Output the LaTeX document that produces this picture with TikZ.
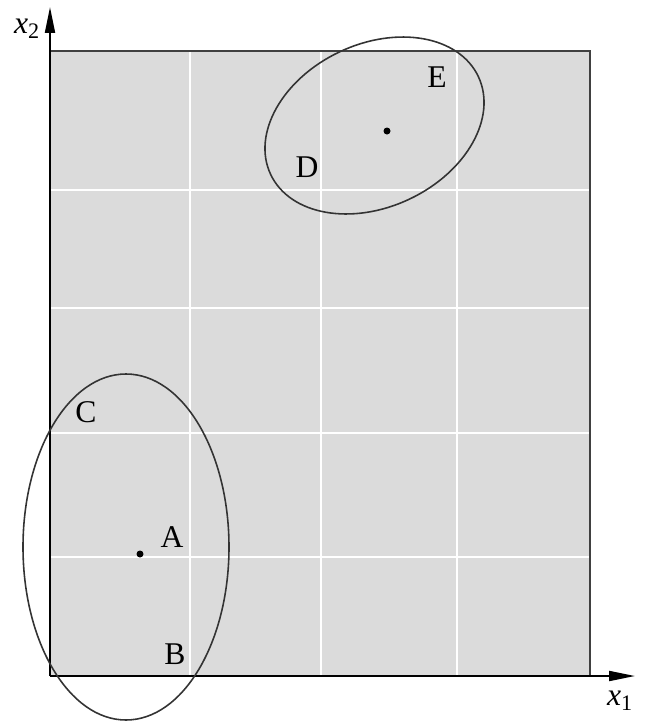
\documentclass[tikz,border=0pt]{standalone}
\usepackage{fontspec}
\setmainfont{Liberation Serif}
\usetikzlibrary{arrows.meta}

\begin{document}
\begin{tikzpicture}[x=0.02cm, y=-0.02cm,
  gridline/.style={white, line width=0.9pt},
  frame/.style={draw=black!75, line width=0.85pt},
  axis/.style={black, line width=1.1pt, -{Triangle[length=0.52cm, width=0.2cm]}},
  curve/.style={draw=black!80, line width=0.9pt},
  dot/.style={circle, fill=black, inner sep=0pt, minimum size=0.14cm},
  lbl/.style={font=\fontsize{18}{21}\selectfont, inner sep=0pt},
]
  \useasboundingbox (0,0) rectangle (656,724);
  % shaded region with its grid
  \fill[black!14] (50,51) rectangle (590,676);
  \foreach \gx in {190,321,457}
    \draw[gridline] (\gx,51) -- (\gx,676);
  \foreach \gy in {190,308,433,557}
    \draw[gridline] (50,\gy) -- (590,\gy);
  \draw[frame] (50,51) -- (590,51) -- (590,676);
  % axes
  \coordinate (orig) at (50,676);
  \coordinate (xend) at (635,676);
  \coordinate (yend) at (50,7);
  \draw[axis] (orig) -- (xend);
  \draw[axis] (orig) -- (yend);
  \node[lbl] (xlab) at (620,701) {\textit{x}\textsubscript{1}};
  \node[lbl] (ylab) at (27,29) {\textit{x}\textsubscript{2}};
  % the two clusters
  \draw[curve] (126,547) ellipse [x radius=103, y radius=173];
  \draw[curve, rotate around={25.2:(374.5,125.5)}]
        (374.5,125.5) ellipse [x radius=114.8, y radius=81.5];
  \node[dot] (ctrA) at (140,554) {};
  \node[dot] (ctrE) at (387,131) {};
  \node[lbl] (labA) at (172,537) {A};
  \node[lbl] (labB) at (175,654) {B};
  \node[lbl] (labC) at (86,412) {C};
  \node[lbl] (labD) at (307,167) {D};
  \node[lbl] (labE) at (437,77) {E};
\end{tikzpicture}
\end{document}
